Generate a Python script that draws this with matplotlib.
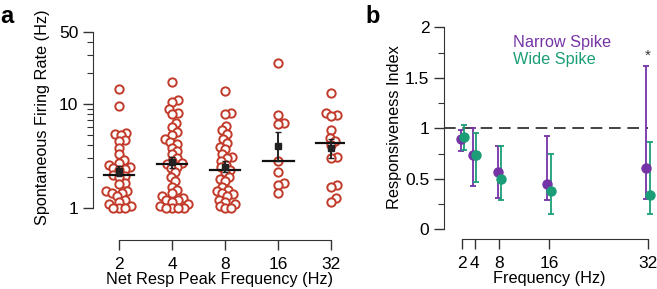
"""Spontaneous firing rate by peak frequency (a) and responsiveness index by cell type (b)."""
import numpy as np
import matplotlib; matplotlib.use("Agg"); import matplotlib.pyplot as plt
from matplotlib.ticker import NullFormatter, FixedLocator

plt.rcParams["font.family"] = ["Liberation Sans", "DejaVu Sans"]
plt.rcParams["font.size"] = 11.7

# panel a: spontaneous rate (Hz) per net-response peak frequency group
groups = ["2", "4", "8", "16", "32"]
rate_2 = [14.0, 9.5, 5.3, 5.2, 5.0, 4.5, 4.4, 3.8, 3.3, 2.9, 2.7, 2.6, 2.5, 2.4, 2.35, 2.3,
          2.06, 2.05, 2.0, 1.75, 1.7, 1.45, 1.45, 1.4, 1.4, 1.3, 1.2, 1.15, 1.1, 1.05, 1.0, 1.0, 1.0]
rate_4 = [16.2, 11.0, 10.5, 9.0, 8.2, 8.0, 6.6, 6.0, 5.4, 5.0, 4.6, 4.3, 4.1, 3.8, 3.5, 3.3,
          3.0, 2.8, 2.7, 2.65, 2.5, 2.4, 2.2, 2.0, 1.8, 1.6, 1.5, 1.4, 1.3, 1.25, 1.2, 1.2,
          1.15, 1.1, 1.05, 1.0, 1.0, 1.0, 1.0]
rate_8 = [13.5, 8.2, 8.1, 6.2, 5.6, 5.1, 4.6, 4.2, 3.9, 3.7, 3.3, 3.1, 3.0, 2.8, 2.6, 2.45,
          2.3, 2.2, 2.0, 1.9, 1.8, 1.6, 1.5, 1.45, 1.4, 1.35, 1.3, 1.2, 1.15, 1.1, 1.05, 1.0, 1.0]
rate_16 = [25.0, 7.9, 6.6, 6.5, 2.8, 2.2, 1.75, 1.65, 1.4]
rate_32 = [12.8, 8.2, 7.9, 7.6, 5.6, 4.7, 4.4, 4.0, 3.1, 3.0, 1.65, 1.6, 1.25, 1.15]
rates = [rate_2, rate_4, rate_8, rate_16, rate_32]

# panel b: responsiveness index (point, lower err, upper err)
freqs = [2, 4, 8, 16, 32]
narrow_ri = [0.89, 0.74, 0.57, 0.45, 0.61]
narrow_lo = [0.78, 0.43, 0.31, 0.29, 0.30]
narrow_hi = [0.98, 1.00, 0.82, 0.92, 1.62]
wide_ri = [0.91, 0.74, 0.50, 0.38, 0.34]
wide_lo = [0.79, 0.47, 0.29, 0.15, 0.15]
wide_hi = [1.03, 0.95, 0.82, 0.75, 0.86]

RED = "#C23B2A"; PURPLE = "#7434A6"; GREEN = "#1B9E77"; TK = 12.5

fig = plt.figure(figsize=(6.57, 2.89), dpi=100)
W, H = 657, 289
axa = fig.add_axes([93/W, 1-240/H, (345-93)/W, (240-31.6)/H])
axb = fig.add_axes([444/W, 1-239/H, (655-444)/W, (239-27.3)/H])

def style(ax):
    for s in ("top", "right"): ax.spines[s].set_visible(False)
    ax.tick_params(direction="out", length=7, width=1, color="#333333", labelsize=TK)
    ax.tick_params(axis="x", pad=5)
    ax.tick_params(which="minor", length=4, width=0.8, color="#333333")
    for s in ("left", "bottom"): ax.spines[s].set_color("#333333")

# ---- panel a
axa.set_yscale("log"); axa.set_ylim(0.49, 50); axa.set_xlim(-0.49, 4.26)
fig.canvas.draw()

def swarm(vals, x0, ax, d=6.0):
    pts = ax.transData.transform(np.column_stack([np.full(len(vals), x0), vals]))
    ys = pts[:, 1]; xs = np.zeros(len(vals)); placed = []
    for i in np.argsort(ys):
        cands = [0.0]
        for px, py in placed:
            dy = ys[i] - py
            if abs(dy) < d:
                dx = np.sqrt(d*d - dy*dy); cands += [px + dx, px - dx]
        for c in sorted(cands, key=abs):
            if all((c-px)**2 + (ys[i]-py)**2 >= d*d - 1e-6 for px, py in placed):
                xs[i] = c; placed.append((c, ys[i])); break
    back = ax.transData.inverted().transform(np.column_stack([pts[:, 0] + xs, ys]))
    return back[:, 0]

for k, v in enumerate(rates):
    v = np.array(v)
    axa.plot(swarm(v, k, axa), v, "o", ms=6.0, mfc="white", mec=RED, mew=1.4, zorder=2)
    lv = np.log10(v); m = lv.mean(); se = lv.std(ddof=1)/np.sqrt(len(lv))
    axa.plot([k-0.29, k+0.29], [np.median(v)]*2, color="#111111", lw=1.6, zorder=3)
    axa.errorbar(k, 10**m, yerr=[[10**m-10**(m-se)], [10**(m+se)-10**m]], fmt="s", ms=5,
                 color="#222222", capsize=2, elinewidth=1.4, zorder=4)

axa.spines["left"].set_bounds(1, 50); axa.spines["bottom"].set_bounds(0, 4)
axa.set_yticks([1, 10, 50]); axa.set_yticklabels(["1", "10", "50"])
axa.yaxis.set_minor_locator(FixedLocator([2, 3, 4, 5, 6, 7, 8, 9, 20, 30, 40]))
axa.yaxis.set_minor_formatter(NullFormatter())
axa.set_xticks(range(5)); axa.set_xticklabels(groups)
style(axa)
axa.set_ylabel("Spontaneous Firing Rate (Hz)"); axa.yaxis.set_label_coords(-0.17, 0.59)
axa.set_xlabel("Net Resp Peak Frequency (Hz)", labelpad=0)

# ---- panel b
axb.set_xlim(-0.95, 33.1); axb.set_ylim(-0.096, 2)
axb.axhline(1, color="#222222", lw=1.2, dashes=(7, 4), xmin=0, xmax=(32-(-0.95))/(33.1+0.95))
f = np.array(freqs, float)
for dx, ri, lo, hi, c in [(-0.28, narrow_ri, narrow_lo, narrow_hi, PURPLE),
                          (0.28, wide_ri, wide_lo, wide_hi, GREEN)]:
    ri = np.array(ri); lo = np.array(lo); hi = np.array(hi)
    axb.errorbar(f+dx, ri, yerr=[ri-lo, hi-ri], fmt="o", ms=6.5, color=c, ecolor=c,
                 elinewidth=1.3, capsize=2.5, capthick=1.3, zorder=3)
axb.text(32, 1.72, "*", ha="center", va="center", fontsize=11, color="#333333")
axb.text(0.327, 0.926, "Narrow Spike", color=PURPLE, fontsize=11.7, va="center", transform=axb.transAxes)
axb.text(0.327, 0.846, "Wide Spike", color=GREEN, fontsize=11.7, va="center", transform=axb.transAxes)
axb.spines["left"].set_bounds(0, 2); axb.spines["bottom"].set_bounds(2, 32)
axb.set_yticks([0, 0.5, 1, 1.5, 2]); axb.set_yticklabels(["0", "0.5", "1", "1.5", "2"])
axb.yaxis.set_minor_locator(FixedLocator([0.25, 0.75, 1.25, 1.75]))
axb.set_xticks(freqs); axb.set_xticklabels([str(x) for x in freqs])
style(axb)
axb.set_ylabel("Responsiveness Index"); axb.yaxis.set_label_coords(-0.2, 0.527)
axb.set_xlabel("Frequency (Hz)", labelpad=0)

fig.text(0.0, 1-23/H, "a", fontsize=17, weight="bold")
fig.text(365/W, 1-23/H, "b", fontsize=17, weight="bold")
fig.savefig("out.png", dpi=100)
